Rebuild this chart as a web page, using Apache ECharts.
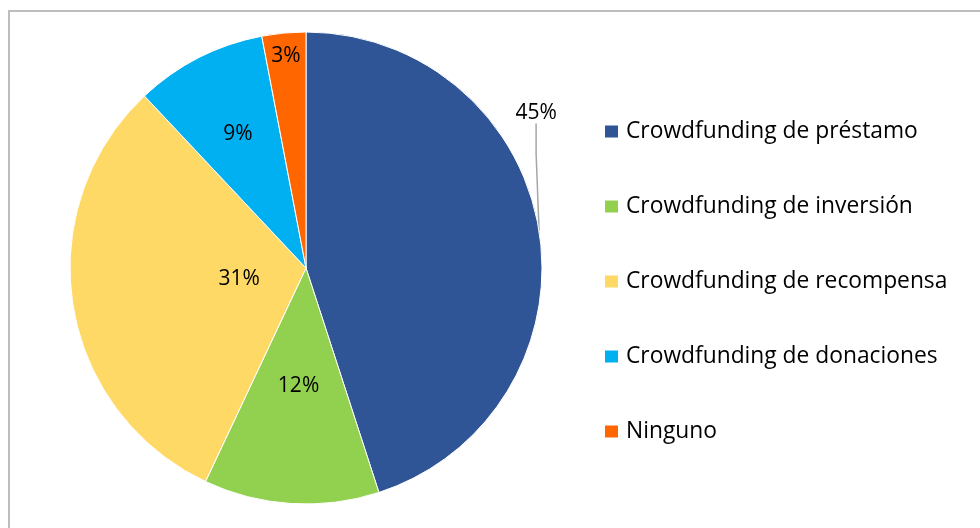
<!DOCTYPE html>
<html>
<head>
<meta charset="utf-8">
<script src="https://cdn.jsdelivr.net/npm/echarts@6/dist/echarts.min.js"></script>
<style>
  html, body { margin: 0; padding: 0; background: #fff; }
  #frame { position: absolute; left: 8px; top: 10px; width: 990px; height: 540px;
           border-left: 2px solid #BDBDBD; border-top: 2px solid #BDBDBD; }
  #chart { position: absolute; left: 0; top: 0; width: 980px; height: 528px; }
</style>
</head>
<body>
<div id="frame"></div>
<div id="chart"></div>
<script>
// Categories and shares (%)
var categories = [
	"Crowdfunding de préstamo",
	"Crowdfunding de inversión",
	"Crowdfunding de recompensa",
	"Crowdfunding de donaciones",
	"Ninguno"
];
var shares = [45, 12, 31, 9, 3];
var colors = ["#2F5597", "#92D050", "#FFD966", "#00B0F0", "#FF6600"];

// Pie geometry
var pieCenter = [306, 268];
var pieRadius = 236;
// Where each inside label sits, as fraction of the radius (first one is outside)
var labelRadius = [null, 0.49, 0.28, 0.62, 0.88];

var font = "'Open Sans', sans-serif";

var chart = echarts.init(document.getElementById("chart"), null, { renderer: "canvas" });

var pieData = categories.map(function (name, i) {
	var item = { name: name, value: shares[i], itemStyle: { color: colors[i] } };
	if (i === 0) {
		item.label = { position: "outside" };
		item.labelLine = { show: true };
	}
	return item;
});

chart.setOption({
	animation: false,
	legend: {
		orient: "vertical",
		left: 598,
		top: 115,
		itemWidth: 15,
		itemHeight: 14,
		itemGap: 52,
		icon: "rect",
		data: categories,
		textStyle: { fontFamily: font, fontSize: 22.8, lineHeight: 22, color: "#000", padding: [0, 0, 0, 2] }
	},
	series: [{
		type: "pie",
		center: pieCenter,
		radius: pieRadius,
		startAngle: 90,
		clockwise: true,
		data: pieData,
		itemStyle: { borderColor: "#fff", borderWidth: 1 },
		label: {
			show: true,
			position: "inside",
			formatter: "{c}%",
			fontFamily: font,
			fontSize: 21,
			color: "#000"
		},
		labelLine: { show: false, lineStyle: { color: "#A6A6A6", width: 1.5 } },
		labelLayout: function (params) {
			var i = params.dataIndex;
			var r = params.labelRect;
			if (i === 0) {
				// Put the outside label straight above its anchor point
				var p = params.labelLinePoints[0];
				return { x: p[0] - 3, y: p[1] - 118, align: "center", verticalAlign: "middle" };
			}
			var cx = r.x + r.width / 2, cy = r.y + r.height / 2;
			var k = labelRadius[i] / 0.5;
			return {
				dx: (cx - pieCenter[0]) * (k - 1),
				dy: (cy - pieCenter[1]) * (k - 1)
			};
		}
	}]
});
</script>
</body>
</html>
